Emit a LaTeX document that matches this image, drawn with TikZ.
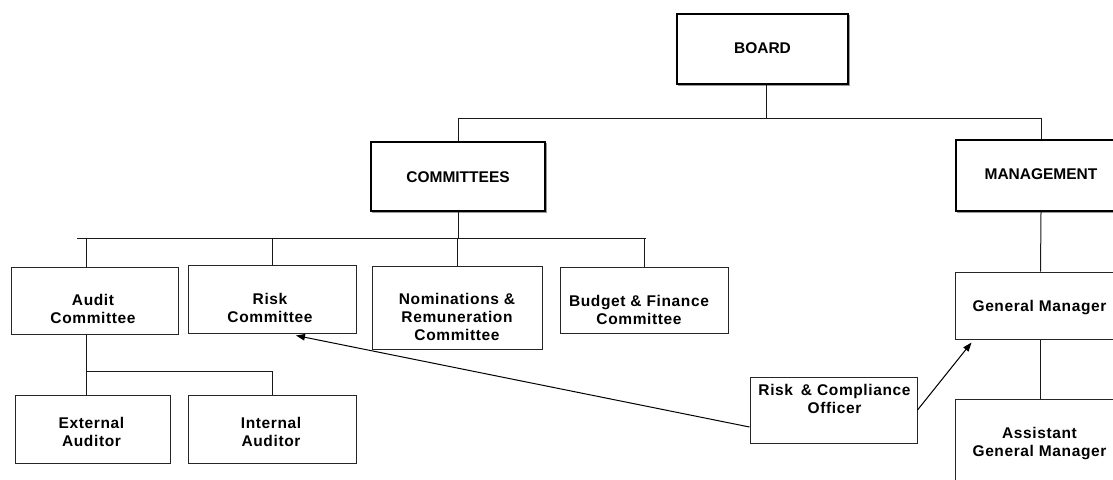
\documentclass[tikz,border=0pt]{standalone}
\usepackage{fontspec}
\setmainfont{Liberation Sans}
\newfontfamily\capsfont{Liberation Sans}
\newfontfamily\labfont{Liberation Sans}[LetterSpace=4]
\usetikzlibrary{arrows.meta,shadows}
\begin{document}
\begin{tikzpicture}[x=1pt,y=-1pt,
  thickbox/.style={draw=black,line width=2.2pt,fill=white,rectangle,inner sep=0pt,
    drop shadow={shadow xshift=1.6pt,shadow yshift=-1.6pt,fill=black!40,draw=black!40,line width=1.6pt,opacity=1}},
  thinbox/.style={draw=black!85,line width=1pt,fill=white,rectangle,inner sep=0pt},
  head/.style={font={\fontsize{15.5}{18}\selectfont\capsfont\bfseries},inner sep=0pt,anchor=north},
  txt/.style={font={\fontsize{15.5}{18}\selectfont\labfont\bfseries},align=center,inner sep=0pt,anchor=north},
  conn/.style={draw=black!90,line width=1pt},
  arr/.style={draw=black,line width=1pt,-{Triangle[length=9pt,width=6.5pt]}}]
\useasboundingbox (0,0) rectangle (1113,479);

% boxes
\node[thickbox,minimum width=171pt,minimum height=70pt] (board) at (762.5,49) {};
\node[thickbox,minimum width=174pt,minimum height=69pt] (comm) at (458,176.5) {};
\node[thickbox,minimum width=170pt,minimum height=71pt] (mgmt) at (1041,175.5) {};

\node[thinbox,minimum width=167pt,minimum height=67pt] (audit) at (94.5,300.5) {};
\node[thinbox,minimum width=168pt,minimum height=68pt] (risk) at (272,299) {};
\node[thinbox,minimum width=170pt,minimum height=83pt] (nom) at (457.5,307.5) {};
\node[thinbox,minimum width=168pt,minimum height=66pt] (budget) at (644,300) {};
\node[thinbox,minimum width=155pt,minimum height=68pt] (ext) at (92.5,429) {};
\node[thinbox,minimum width=168pt,minimum height=68pt] (int) at (272,429) {};
\node[thinbox,minimum width=167pt,minimum height=66pt] (rco) at (833.5,410) {};
\node[thinbox,minimum width=171pt,minimum height=67pt] (gm) at (1040.5,305.5) {};
\node[thinbox,minimum width=171pt,minimum height=100pt] (agm) at (1040.5,449) {};

% texts
\node[head] (tboard) at (762.5,42) {BOARD};
\node[head] (tcomm) at (458,171) {COMMITTEES};
\node[head] (tmgmt) at (1041,168) {MANAGEMENT};
\node[txt] (taudit) at (93,294.5) {Audit\\Committee};
\node[txt] (trisk) at (270,293.5) {Risk\\Committee};
\node[txt] (tnom) at (457,293) {Nominations \&\\Remuneration\\Committee};
\node[txt] (tbudget) at (639,295) {Budget \& Finance\\Committee};
\node[txt] (text) at (91.5,417.5) {External\\Auditor};
\node[txt] (tint) at (271,417.5) {Internal\\Auditor};
\node[txt] (trco) at (834.5,384) {Risk\hspace{3pt} \& Compliance\\Officer};
\node[txt] (tgm) at (1039.5,300) {General Manager};
\node[txt] (tagm) at (1039.5,427) {Assistant\\General Manager};

% bus coordinates
\coordinate (topbus) at (458,118);
\coordinate (cl) at (77,238);
\coordinate (cr) at (646,238);
\coordinate (abus) at (86,371);

% board level
\draw[conn] ([xshift=3.5pt]board.south) -- ([xshift=3.5pt]board.south |- topbus);
\draw[conn] (comm.north) |- (mgmt.north |- topbus) -- (mgmt.north);

% committees level
\draw[conn] (cl) -- (cr);
\draw[conn] (comm.south) -- (comm.south |- cl);
\draw[conn] ([xshift=-8.5pt]audit.north) -- ([xshift=-8.5pt]audit.north |- cl);
\draw[conn] (risk.north) -- (risk.north |- cl);
\draw[conn] (nom.north) -- (nom.north |- cl);
\draw[conn] (budget.north) -- (budget.north |- cl);

% audit level
\draw[conn] ([xshift=-8.5pt]audit.south) -- (abus) -| (int.north);
\draw[conn] (abus) -- (abus |- ext.north);

% management
\draw[conn] (mgmt.south) -- (gm.north);
\draw[conn] (gm.south) -- (agm.north);

% arrows
\draw[arr] ([yshift=-17pt]rco.west) -- ([xshift=24pt,yshift=-2pt]risk.south);
\draw[arr] (rco.east) -- ([xshift=17pt,yshift=-3pt]gm.south west);
\end{tikzpicture}
\end{document}
